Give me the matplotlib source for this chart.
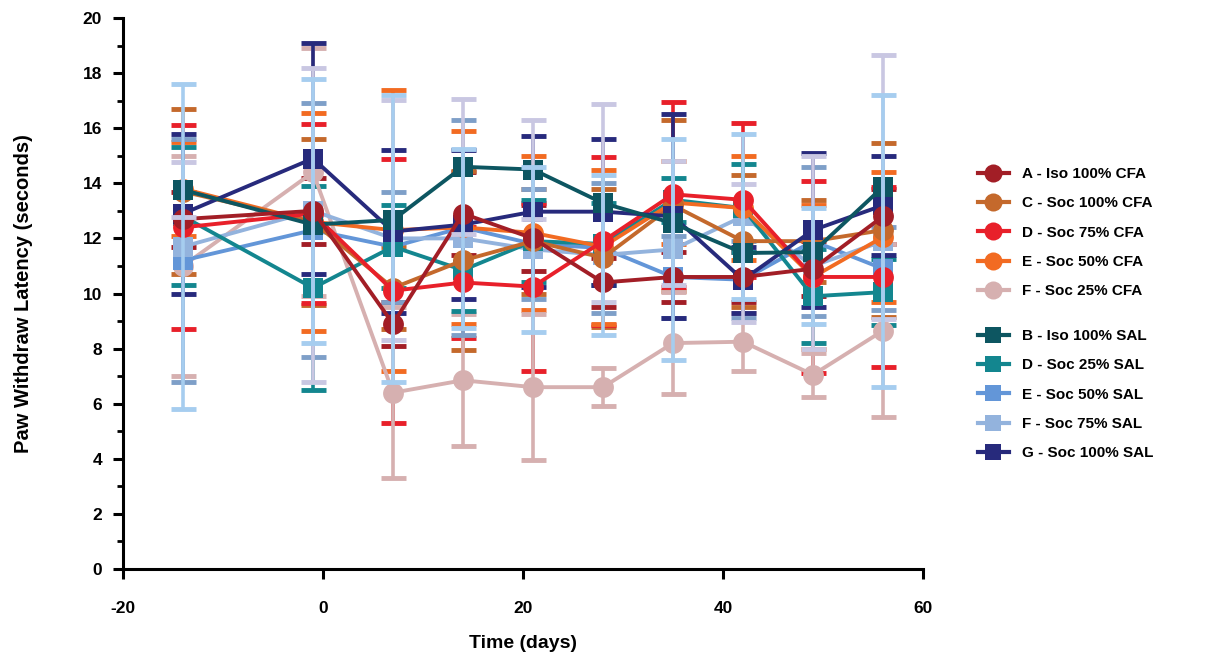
import matplotlib
matplotlib.use("Agg")
import matplotlib.pyplot as plt
from matplotlib.lines import Line2D
from matplotlib.ticker import MultipleLocator

# ---------------- data ----------------
times = [-14, -1, 7, 14, 21, 28, 35, 42, 49, 56]

cfa_labels = ["A - Iso 100% CFA", "C - Soc 100% CFA", "D - Soc 75% CFA",
              "E - Soc 50% CFA", "F - Soc 25% CFA"]
sal_labels = ["B - Iso 100% SAL", "D - Soc 25% SAL", "E - Soc 50% SAL",
              "F - Soc 75% SAL", "G - Soc 100% SAL"]

a_iso100_cfa = [12.7, 13.0, 8.9, 12.9, 12.0, 10.4, 10.6, 10.6, 10.9, 12.8]
a_iso100_cfa_err = [1.0, 1.2, 0.8, 1.5, 1.2, 0.9, 0.9, 0.9, 1.0, 1.0]
c_soc100_cfa = [13.7, 12.6, 10.2, 11.2, 11.9, 11.3, 13.2, 11.9, 11.9, 12.3]
c_soc100_cfa_err = [3.0, 3.0, 1.5, 3.25, 1.9, 2.5, 3.1, 2.4, 1.5, 3.15]
d_soc75_cfa = [12.4, 12.9, 10.1, 10.4, 10.25, 11.9, 13.6, 13.4, 10.6, 10.6]
d_soc75_cfa_err = [3.7, 3.25, 4.8, 2.0, 3.05, 3.05, 3.35, 2.8, 3.5, 3.25]
e_soc50_cfa = [13.8, 12.6, 12.3, 12.4, 12.2, 11.7, 13.3, 13.1, 10.6, 12.05]
e_soc50_cfa_err = [1.7, 3.95, 5.1, 3.5, 2.8, 2.8, 1.5, 1.9, 2.6, 2.35]
f_soc25_cfa = [11.0, 14.4, 6.4, 6.85, 6.6, 6.6, 8.2, 8.25, 7.05, 8.65]
f_soc25_cfa_err = [4.0, 4.5, 3.1, 2.4, 2.65, 0.7, 1.85, 1.05, 0.8, 3.15]

b_iso100_sal = [13.76, 12.5, 12.67, 14.6, 14.5, 13.28, 12.55, 11.47, 11.5, 13.87]
b_iso100_sal_err = [1.0, 5.7, 4.35, 2.45, 1.8, 3.6, 2.25, 2.5, 3.5, 4.8]
d_soc25_sal = [12.8, 10.2, 11.7, 10.85, 11.9, 11.8, 13.4, 13.1, 9.9, 10.05]
d_soc25_sal_err = [2.5, 3.7, 1.5, 1.5, 1.5, 1.5, 0.8, 1.6, 1.7, 1.2]
e_soc50_sal = [11.2, 12.3, 11.7, 12.4, 11.8, 11.65, 10.6, 10.5, 11.9, 10.9]
e_soc50_sal_err = [4.4, 4.6, 2.0, 3.9, 2.0, 2.35, 1.5, 1.4, 2.7, 1.5]
f_soc75_sal = [11.7, 13.0, 12.0, 12.0, 11.6, 11.4, 11.6, 12.8, 11.0, 11.9]
f_soc75_sal_err = [5.9, 4.8, 5.2, 3.25, 3.0, 2.9, 4.0, 3.0, 2.1, 5.3]
g_soc100_sal = [12.9, 14.9, 12.25, 12.5, 12.97, 12.97, 12.8, 10.5, 12.3, 13.2]
g_soc100_sal_err = [2.9, 4.2, 2.95, 2.7, 2.75, 2.65, 3.7, 1.2, 2.8, 1.8]

# ---------------- styles ----------------
series = {
    cfa_labels[0]: dict(y=a_iso100_cfa, e=a_iso100_cfa_err, c="#A21E26", ec="#A21E26", m="o", z=3.9),
    cfa_labels[1]: dict(y=c_soc100_cfa, e=c_soc100_cfa_err, c="#C4692C", ec="#C4692C", m="o", z=3.5),
    cfa_labels[2]: dict(y=d_soc75_cfa, e=d_soc75_cfa_err, c="#E8202A", ec="#E8202A", m="o", z=3.6),
    cfa_labels[3]: dict(y=e_soc50_cfa, e=e_soc50_cfa_err, c="#F26B22", ec="#F26B22", m="o", z=3.4),
    cfa_labels[4]: dict(y=f_soc25_cfa, e=f_soc25_cfa_err, c="#D6B0B0", ec="#D6B0B0", m="o", z=3.0),
    sal_labels[0]: dict(y=b_iso100_sal, e=b_iso100_sal_err, c="#0D5661", ec="#C9C7E2", m="s", z=3.8),
    sal_labels[1]: dict(y=d_soc25_sal, e=d_soc25_sal_err, c="#13868F", ec="#13868F", m="s", z=3.3),
    sal_labels[2]: dict(y=e_soc50_sal, e=e_soc50_sal_err, c="#6396D8", ec="#7E9FC8", m="s", z=3.1),
    sal_labels[3]: dict(y=f_soc75_sal, e=f_soc75_sal_err, c="#93B3DD", ec="#A6CDEF", m="s", z=3.2),
    sal_labels[4]: dict(y=g_soc100_sal, e=g_soc100_sal_err, c="#272A7C", ec="#272A7C", m="s", z=3.7),
}

plt.rcParams['font.family'] = ['Liberation Sans', 'DejaVu Sans']
plt.rcParams['font.weight'] = 'bold'
plt.rcParams['axes.unicode_minus'] = False

fig = plt.figure(figsize=(12.15, 6.58), dpi=100)
ax = fig.add_axes([123 / 1215, 1 - 569 / 658, (923 - 123) / 1215, (569 - 18) / 658])

for name, s in series.items():
    ez = 4.5 if name in (sal_labels[0], sal_labels[3]) else 2.5
    ax.errorbar(times, s["y"], yerr=s["e"], fmt="none", ecolor=s["ec"],
                elinewidth=2.6, capsize=9, capthick=3.5, zorder=ez)
    ax.plot(times, s["y"], color=s["c"], lw=2.8, marker=s["m"],
            markersize=15 if s["m"] == "o" else 14, markeredgewidth=0,
            zorder=s["z"])

ax.set_xlim(-20, 60)
ax.set_ylim(0, 20)
ax.xaxis.set_major_locator(MultipleLocator(20))
ax.yaxis.set_major_locator(MultipleLocator(2))
ax.yaxis.set_minor_locator(MultipleLocator(1))
for sp in ("top", "right"):
    ax.spines[sp].set_visible(False)
for sp in ("left", "bottom"):
    ax.spines[sp].set_linewidth(2.2)
ax.tick_params(axis="both", which="major", direction="out", length=7, width=2.2,
               labelsize=12.5)
ax.tick_params(axis="x", which="major", pad=16)
ax.tick_params(axis="y", which="major", pad=8)
ax.tick_params(axis="y", which="minor", direction="out", length=4, width=2.0)
for lab in ax.get_xticklabels() + ax.get_yticklabels():
    lab.set_fontweight("bold")

ax.set_xlabel("Time (days)", fontsize=14, fontweight="bold", labelpad=14)
ax.set_ylabel("Paw Withdraw Latency (seconds)", fontsize=14.5, fontweight="bold", labelpad=36)

def handles(names):
    hs = []
    for n in names:
        s = series[n]
        hs.append(Line2D([], [], color=s["c"], lw=3, marker=s["m"],
                         markersize=13 if s["m"] == "o" else 12, markeredgewidth=0))
    return hs

leg_kw = dict(frameon=False, handlelength=2.0, handletextpad=0.9,
              labelspacing=1.0, borderaxespad=0, prop=dict(weight="bold", size=11))
leg1 = fig.legend(handles(cfa_labels), cfa_labels, loc="upper left",
                  bbox_to_anchor=(0.800, 1 - 161 / 658), **leg_kw)
leg2 = fig.legend(handles(sal_labels), sal_labels, loc="upper left",
                  bbox_to_anchor=(0.800, 1 - 323 / 658), **leg_kw)

fig.savefig("out.png", dpi=100)
